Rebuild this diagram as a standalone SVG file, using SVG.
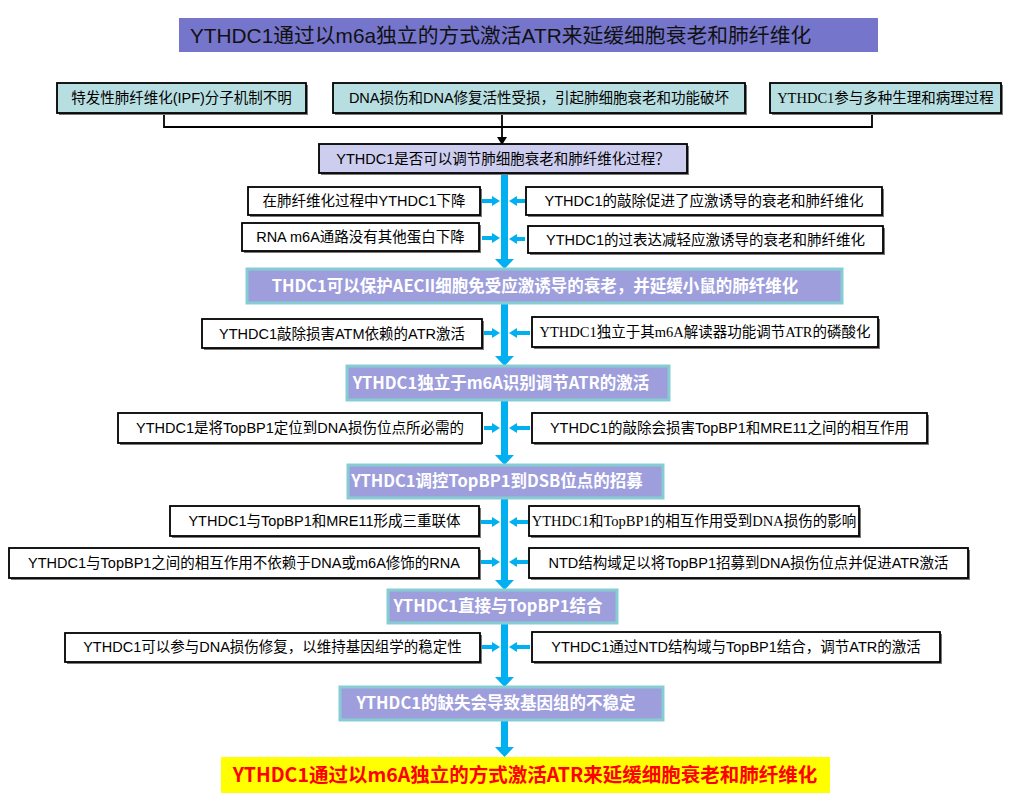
<svg xmlns="http://www.w3.org/2000/svg" width="1014" height="804" viewBox="0 0 1014 804">
<style>
.sh{fill:#7a7a7a}
.bx{fill:#fff;stroke:#000;stroke-width:1.8}
.teal{fill:#B7DEE0;stroke:#000;stroke-width:1.8}
.q{fill:#CDCDEF;stroke:#000;stroke-width:1.8}
.blue{fill:#9E9EDD;stroke:#86CDD3;stroke-width:3}
.t{font-family:"Liberation Sans","Noto Sans CJK SC",sans-serif;font-size:14.5px;fill:#000;text-anchor:middle}
.ts{font-family:"Liberation Serif","Noto Sans CJK SC",serif;font-size:14.5px;fill:#000;text-anchor:middle}
.tb{font-family:"Liberation Sans Narrow","Noto Sans CJK SC",sans-serif;font-weight:bold;font-size:16.5px;fill:#fff;text-anchor:middle}
.sp{stroke:#00B0F0;stroke-width:7;fill:none}
.sa{stroke:#00B0F0;stroke-width:4;fill:none}
.hd{fill:#00B0F0}
.ln{stroke:#000;stroke-width:1.8;fill:none}
</style>
<g id="title">
<rect x="179" y="18" width="699" height="34" fill="#7575CC"/>
<text x="190" y="43" style="font-family:'Liberation Sans','Noto Sans CJK SC',sans-serif;font-size:20.8px;fill:#111">YTHDC1通过以m6a独立的方式激活ATR来延缓细胞衰老和肺纤维化</text>
</g>
<g id="connectors">
<path class="ln" d="M164,113 V127 H872 V113"/>
<path class="ln" d="M502,113 V138"/>
<polygon fill="#000" points="497,137 507,137 502,145"/>
<path class="sp" d="M504.5,173 V260 M504.5,303 V357 M504.5,400 V456 M504.5,498 V581 M504.5,623 V678 M504.5,720 V748"/>
<polygon class="hd" points="495,259 514,259 504.5,269"/>
<polygon class="hd" points="495,356 514,356 504.5,366"/>
<polygon class="hd" points="495,455 514,455 504.5,465"/>
<polygon class="hd" points="495,580 514,580 504.5,590"/>
<polygon class="hd" points="495,677 514,677 504.5,687"/>
<polygon class="hd" points="495,747 514,747 504.5,757"/>
<path class="sa" d="M482,201 H494 M482,238 H494 M484,333 H494 M484,428 H494 M481,522 H494 M481,562 H494 M482,647 H494"/>
<path class="sa" d="M525,201 H515 M525,239 H515 M530,333 H515 M530,428 H515 M528,522 H515 M528,562 H515 M530,647 H515"/>
<polygon class="hd" points="492,196 500,201 492,206"/>
<polygon class="hd" points="492,233 500,238 492,243"/>
<polygon class="hd" points="492,328 500,333 492,338"/>
<polygon class="hd" points="492,423 500,428 492,433"/>
<polygon class="hd" points="492,517 500,522 492,527"/>
<polygon class="hd" points="492,557 500,562 492,567"/>
<polygon class="hd" points="492,642 500,647 492,652"/>
<polygon class="hd" points="517,196 509,201 517,206"/>
<polygon class="hd" points="517,234 509,239 517,244"/>
<polygon class="hd" points="517,328 509,333 517,338"/>
<polygon class="hd" points="517,423 509,428 517,433"/>
<polygon class="hd" points="517,517 509,522 517,527"/>
<polygon class="hd" points="517,557 509,562 517,567"/>
<polygon class="hd" points="517,642 509,647 517,652"/>
</g>
<g id="top1"><rect class="sh" x="59" y="85" width="249" height="30"/><rect class="teal" x="57" y="83" width="249" height="30"/><text class="t" x="181.5" y="103">特发性肺纤维化(IPF)分子机制不明</text></g>
<g id="top2"><rect class="sh" x="335" y="85" width="412" height="30"/><rect class="teal" x="333" y="83" width="412" height="30"/><text class="t" x="539" y="103">DNA损伤和DNA修复活性受损，引起肺细胞衰老和功能破坏</text></g>
<g id="top3"><rect class="sh" x="772" y="85" width="231" height="30"/><rect class="teal" x="770" y="83" width="231" height="30"/><text class="ts" x="885.5" y="103">YTHDC1参与多种生理和病理过程</text></g>
<g id="question"><rect class="sh" x="321" y="146" width="368" height="29"/><rect class="q" x="319" y="144" width="368" height="29"/><text x="503" y="164" style="font-family:'Liberation Sans','Noto Sans CJK SC',sans-serif;font-size:14.5px;fill:#000;text-anchor:middle">YTHDC1是否可以调节肺细胞衰老和肺纤维化过程<tspan style="font-family:'Noto Sans CJK SC',sans-serif">？</tspan></text></g>
<g id="a1"><rect class="sh" x="250" y="189" width="232" height="28"/><rect class="bx" x="248" y="187" width="232" height="28"/><text class="t" x="364" y="206">在肺纤维化过程中YTHDC1下降</text></g>
<g id="a2"><rect class="sh" x="528" y="189" width="356" height="28"/><rect class="bx" x="526" y="187" width="356" height="28"/><text class="t" x="704" y="206">YTHDC1的敲除促进了应激诱导的衰老和肺纤维化</text></g>
<g id="b1"><rect class="sh" x="244" y="225" width="237" height="28"/><rect class="bx" x="242" y="223" width="237" height="28"/><text class="t" x="360.5" y="242">RNA m6A通路没有其他蛋白下降</text></g>
<g id="b2"><rect class="sh" x="530" y="228" width="355" height="27"/><rect class="bx" x="528" y="226" width="355" height="27"/><text class="t" x="705.5" y="245">YTHDC1的过表达减轻应激诱导的衰老和肺纤维化</text></g>
<g id="s1"><rect class="blue" x="247" y="269" width="595" height="34"/><text class="tb" x="535" y="292">THDC1可以保护AECII细胞免受应激诱导的衰老，并延缓小鼠的肺纤维化</text></g>
<g id="c1"><rect class="sh" x="204" y="321" width="280" height="29"/><rect class="bx" x="202" y="319" width="280" height="29"/><text class="t" x="342" y="339">YTHDC1敲除损害ATM依赖的ATR激活</text></g>
<g id="c2"><rect class="sh" x="534" y="319" width="346" height="30"/><rect class="bx" x="532" y="317" width="346" height="30"/><text class="ts" x="705" y="337">YTHDC1独立于其m6A解读器功能调节ATR的磷酸化</text></g>
<g id="s2"><rect class="blue" x="347" y="366" width="322" height="34"/><text class="tb" x="501" y="389">YTHDC1独立于m6A识别调节ATR的激活</text></g>
<g id="d1"><rect class="sh" x="120" y="415" width="362" height="30"/><rect class="bx" x="118" y="413" width="364" height="30"/><text class="t" x="300" y="433">YTHDC1是将TopBP1定位到DNA损伤位点所必需的</text></g>
<g id="d2"><rect class="sh" x="534" y="415" width="395" height="30"/><rect class="bx" x="532" y="413" width="395" height="30"/><text class="t" x="729.5" y="433">YTHDC1的敲除会损害TopBP1和MRE11之间的相互作用</text></g>
<g id="s3"><rect class="blue" x="348" y="465" width="315" height="33"/><text class="tb" x="497" y="487">YTHDC1调控TopBP1到DSB位点的招募</text></g>
<g id="e1"><rect class="sh" x="172" y="508" width="309" height="30"/><rect class="bx" x="170" y="506" width="309" height="30"/><text class="t" x="324.5" y="526">YTHDC1与TopBP1和MRE11形成三重联体</text></g>
<g id="e2"><rect class="sh" x="531" y="508" width="330" height="30"/><rect class="bx" x="529" y="506" width="330" height="30"/><text class="ts" x="694" y="526">YTHDC1和TopBP1的相互作用受到DNA损伤的影响</text></g>
<g id="f1"><rect class="sh" x="11" y="550" width="470" height="30"/><rect class="bx" x="9" y="548" width="470" height="30"/><text class="t" x="244" y="568">YTHDC1与TopBP1之间的相互作用不依赖于DNA或m6A修饰的RNA</text></g>
<g id="f2"><rect class="sh" x="531" y="550" width="439" height="30"/><rect class="bx" x="529" y="548" width="439" height="30"/><text class="t" x="748.5" y="568">NTD结构域足以将TopBP1招募到DNA损伤位点并促进ATR激活</text></g>
<g id="s4"><rect class="blue" x="388" y="590" width="229" height="33"/><text class="tb" x="498" y="612">YTHDC1直接与TopBP1结合</text></g>
<g id="g1"><rect class="sh" x="67" y="635" width="415" height="29"/><rect class="bx" x="65" y="633" width="415" height="29"/><text class="t" x="272.5" y="652">YTHDC1可以参与DNA损伤修复，以维持基因组学的稳定性</text></g>
<g id="g2"><rect class="sh" x="534" y="634" width="408" height="30"/><rect class="bx" x="532" y="632" width="408" height="30"/><text class="t" x="736" y="652">YTHDC1通过NTD结构域与TopBP1结合，调节ATR的激活</text></g>
<g id="s5"><rect class="blue" x="340" y="687" width="323" height="33"/><text class="tb" x="496" y="709">YTHDC1的缺失会导致基因组的不稳定</text></g>
<g id="final"><rect x="221" y="757" width="609" height="36" fill="#FFFF00"/><text x="525" y="782" style="font-family:'Liberation Sans Narrow','Noto Sans CJK SC',sans-serif;font-weight:bold;font-size:19.5px;fill:#FF0000;text-anchor:middle">YTHDC1通过以m6A独立的方式激活ATR来延缓细胞衰老和肺纤维化</text></g>
</svg>
